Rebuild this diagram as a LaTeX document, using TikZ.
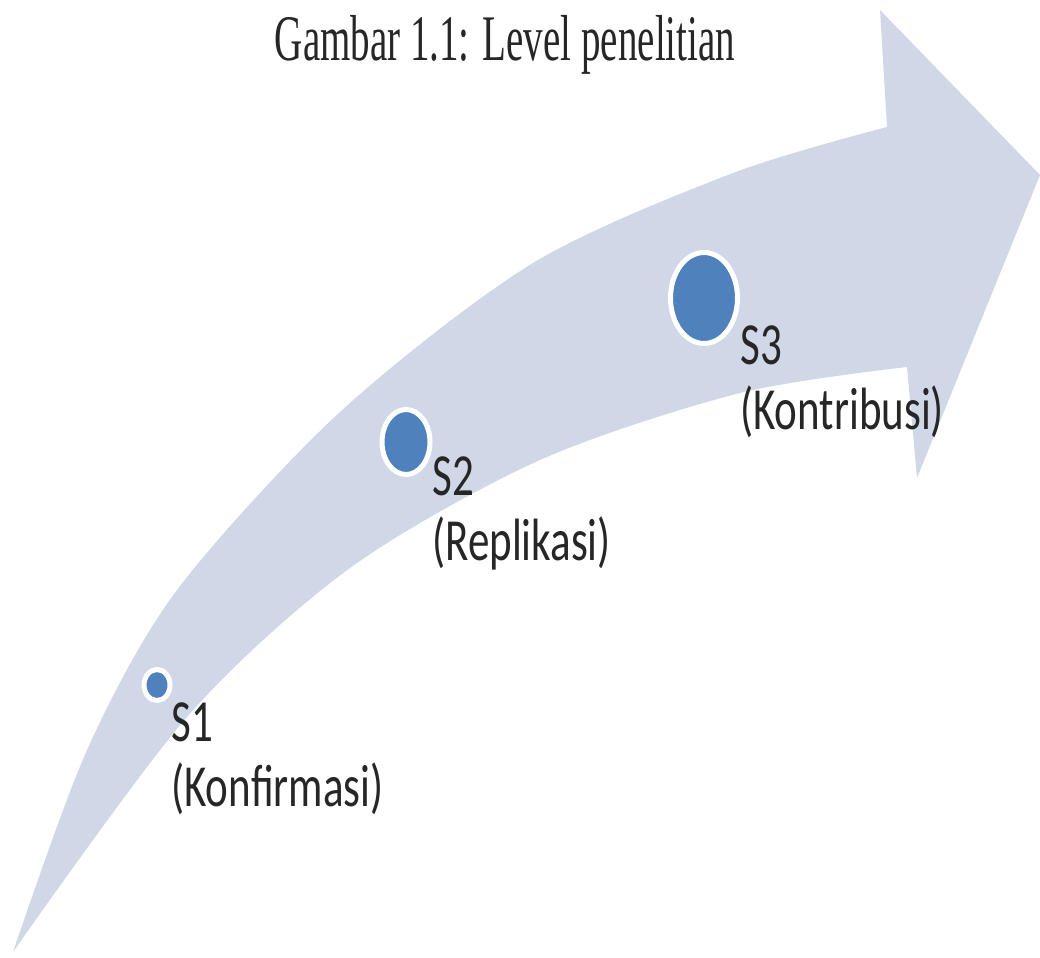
\documentclass[tikz,border=0pt]{standalone}
\usepackage{fontspec}
\usetikzlibrary{shapes.geometric}

\newfontfamily\lblfont[FakeStretch=0.72]{Carlito}
\newfontfamily\capfont[FakeStretch=0.6]{Liberation Serif}
\definecolor{bandcol}{RGB}{208,216,232}
\definecolor{dotcol}{RGB}{79,129,189}

\begin{document}
\begin{tikzpicture}[x=0.02cm, y=-0.02cm]

        \useasboundingbox (0,0) rectangle (1040,957);

        % curved arrow
        \fill[bandcol] plot[smooth] coordinates {(13,952) (87,750) (177,590) (340,412) (533,263) (733,173) (887,127)}
          -- (880,10) -- (1040,175) -- (917,478)
          -- plot[smooth] coordinates {(907,367) (740,393) (540,460) (350,568) (187,717) (13,952)}
          -- cycle;

        \begin{scope}[every node/.style={ellipse, fill=dotcol, draw=white, line width=0.1cm, inner sep=0pt}]
          \node[minimum width=0.52cm, minimum height=0.62cm] (s1) at (157,685) {};
          \node[minimum width=0.96cm, minimum height=1.30cm] (s2) at (406,442) {};
          \node[minimum width=1.34cm, minimum height=1.82cm] (s3) at (704,298) {};
        \end{scope}

        \begin{scope}[every node/.style={font=\lblfont\fontsize{34}{37}\selectfont, align=left, anchor=north west, inner sep=0pt, text=black!85}]
          \node (l1) at (171,702) {S1\\(Konfirmasi)};
          \node (l2) at (432,456) {S2\\(Replikasi)};
          \node (l3) at (740,325) {S3\\(Kontribusi)};
        \end{scope}

        \node[font=\capfont\fontsize{37}{40}\selectfont, anchor=base, text=black!85] (title) at (505,60) {Gambar 1.1: Level penelitian};

      \end{tikzpicture}
\end{document}
